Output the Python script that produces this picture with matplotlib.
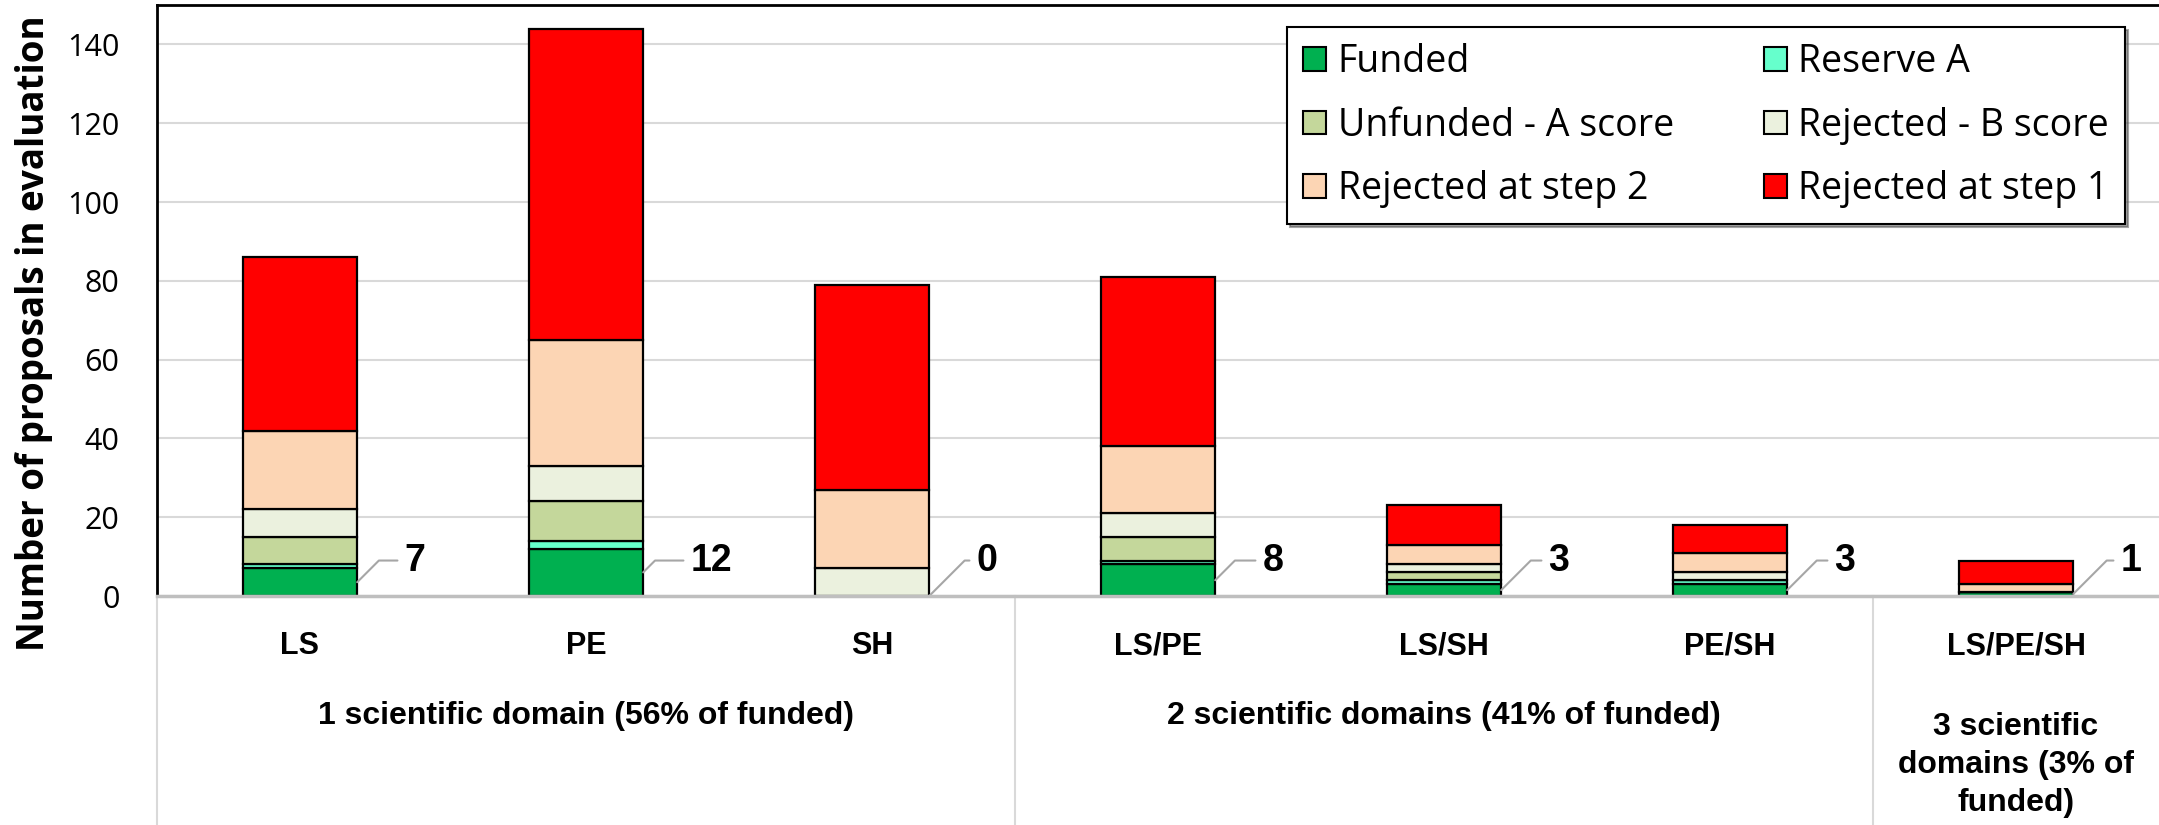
import numpy as np
import matplotlib
matplotlib.use('Agg')
import matplotlib.pyplot as plt

categories = ['LS', 'PE', 'SH', 'LS/PE', 'LS/SH', 'PE/SH', 'LS/PE/SH']
funded = [7, 12, 0, 8, 3, 3, 1]
reserve_a = [1, 2, 0, 1, 1, 1, 0]
unfunded_a = [7, 10, 0, 6, 2, 0, 0]
rejected_b = [7, 9, 7, 6, 2, 2, 0]
rejected_step2 = [20, 32, 20, 17, 5, 5, 2]
rejected_step1 = [44, 79, 52, 43, 10, 7, 6]

groups = ['1 scientific domain (56% of funded)',
          '2 scientific domains (41% of funded)',
          '3 scientific\ndomains (3% of\nfunded)']
group_sizes = [3, 3, 1]

series = [
    ('Funded', funded, '#00B050'),
    ('Reserve A', reserve_a, '#66FFCC'),
    ('Unfunded - A score', unfunded_a, '#C4D79B'),
    ('Rejected - B score', rejected_b, '#EBF1DE'),
    ('Rejected at step 2', rejected_step2, '#FCD5B4'),
    ('Rejected at step 1', rejected_step1, '#FF0000'),
]

plt.rcParams['font.family'] = ['Open Sans', 'DejaVu Sans']
label_font = ['Liberation Sans', 'DejaVu Sans']

W, H = 2159, 825
fig = plt.figure(figsize=(W / 100, H / 100), dpi=100)
ax = fig.add_axes([157 / W, (H - 596) / H, (W - 157) / W, (596 - 5) / H])

x = np.arange(len(categories))
width = 0.4
bottom = np.zeros(len(categories))
bars = []
for name, vals, col in series:
    b = ax.bar(x, vals, width, bottom=bottom, color=col, edgecolor='black',
               linewidth=1.6, label=name, zorder=3)
    bars.append(b)
    bottom += np.array(vals)

ax.set_xlim(-0.5, len(categories) - 0.5)
ax.set_ylim(0, 150)
ax.set_yticks(np.arange(0, 141, 20))
ax.grid(axis='y', color='#d9d9d9', linewidth=1.5, zorder=0)
ax.tick_params(axis='y', length=0, pad=27, labelsize=22)
ax.set_xticks([])
ax.set_ylabel('Number of proposals in evaluation', fontsize=26.5, fontweight='bold')
ax.yaxis.set_label_coords(-0.052, 0.445)

for s in ['top', 'left']:
    ax.spines[s].set_color('black')
    ax.spines[s].set_linewidth(2)
ax.spines['right'].set_visible(False)
ax.spines['bottom'].set_color('#bfbfbf')
ax.spines['bottom'].set_linewidth(2.5)
ax.spines['bottom'].set_zorder(4)

# funded counts, all on one level, with leader lines to the funded segment
label_level = 9.0
for i, v in enumerate(funded):
    ax.annotate(str(v), xy=(x[i] + width / 2, v / 2),
                xytext=(x[i] + width / 2 + 0.165, label_level),
                ha='left', va='center',
                fontsize=27, fontweight='bold', family=label_font,
                arrowprops=dict(arrowstyle='-', color='#a6a6a6', lw=1.5,
                                relpos=(0, 0.5), shrinkA=3, shrinkB=0,
                                connectionstyle='angle,angleA=0,angleB=45,rad=0'))

# category area below the plot
trans = ax.get_xaxis_transform()
depth = -(825 - 596) / 591
for i, c in enumerate(categories):
    ax.text(x[i], -0.085, c, transform=trans, ha='center', va='center',
            fontsize=22, fontweight='bold', family=label_font)

start = 0
edges = [-0.5]
for g, n in zip(groups, group_sizes):
    center = (start + start + n - 1) / 2
    yy = -0.286 if '\n' in g else -0.203
    ax.text(center, yy, g, transform=trans, ha='center', va='center',
            fontsize=23, fontweight='bold', family=label_font, linespacing=1.35)
    start += n
    edges.append(start - 0.5)

for e in edges[:-1]:
    ax.plot([e, e], [0, depth], transform=trans, color='#d9d9d9',
            linewidth=1.5, clip_on=False, zorder=1)

# legend filled row by row like the original
order = [0, 2, 4, 1, 3, 5]
handles = [bars[k] for k in order]
labels = [series[k][0] for k in order]
leg = ax.legend(handles, labels, ncol=2, loc='upper right',
                bbox_to_anchor=(0.983, 0.962),
                fontsize=27, frameon=True, fancybox=False, shadow=True,
                handlelength=0.62, handleheight=0.58, handletextpad=0.3,
                columnspacing=2.4, labelspacing=0.68, borderpad=0.42,
                borderaxespad=0)
leg.get_frame().set_edgecolor('black')
leg.get_frame().set_linewidth(1.5)
for h in leg.legend_handles:
    h.set_linewidth(1.5)

fig.savefig('out.png', dpi=100)
